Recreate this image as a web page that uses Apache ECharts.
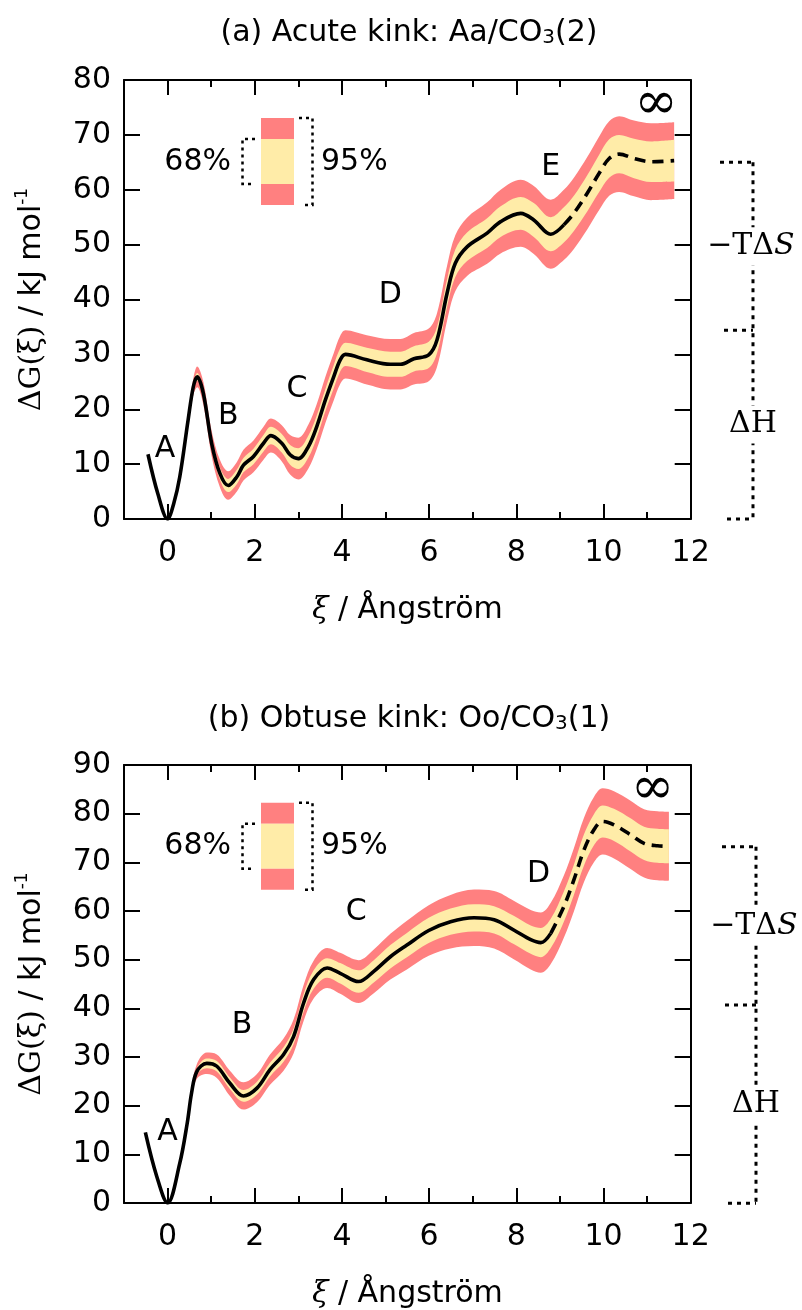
<!DOCTYPE html>
<html>
<head>
<meta charset="utf-8">
<script src="https://cdn.jsdelivr.net/npm/echarts@6/dist/echarts.min.js"></script>
<style>
  html, body { margin: 0; padding: 0; background: #ffffff; }
  #chart { width: 802px; height: 1310px; }
</style>
</head>
<body>
<div id="chart"></div>
<script>
// ---- (a) Acute kink: reaction coordinate (Å), free energy (kJ/mol), confidence half-widths
const xiA   = [-0.45, -0.22, 0, 0.14, 0.28, 0.47, 0.59, 0.68, 0.82, 1.01, 1.2, 1.39, 1.59, 1.74, 1.97, 2.2, 2.37, 2.62, 2.81, 3.0, 3.23, 3.42, 3.62, 3.81, 3.96, 4.08, 4.57, 5.11, 5.34, 5.65, 5.99, 6.18, 6.41, 6.6, 6.87, 7.33, 7.64, 8.1, 8.4, 8.79, 9.09, 9.32, 9.63, 9.9, 10.13, 10.36, 10.7, 11.09, 11.62];
const gA    = [11.8, 4.5, 0, 2.8, 7.7, 18.0, 24.1, 25.9, 22.9, 13.8, 8.3, 6.1, 7.7, 9.8, 11.4, 13.8, 15.2, 13.8, 11.7, 11.0, 13.2, 16.8, 21.7, 25.9, 29.0, 30.0, 29.0, 28.2, 28.2, 29.2, 29.9, 32.6, 41.1, 46.6, 49.6, 52.1, 54.2, 55.7, 54.5, 51.9, 53.6, 55.7, 59.4, 63.0, 65.7, 66.5, 65.7, 65.1, 65.3];
const ci68A = [0, 0, 0, 0, 0, 0.3, 0.5, 0.7, 0.8, 1.0, 1.1, 1.2, 1.3, 1.3, 1.4, 1.5, 1.6, 1.7, 1.8, 1.9, 2.0, 2.0, 2.0, 2.1, 2.1, 2.1, 2.2, 2.3, 2.3, 2.3, 2.4, 2.4, 2.5, 2.5, 2.6, 2.7, 2.8, 3.0, 3.1, 3.1, 3.2, 3.2, 3.3, 3.4, 3.5, 3.5, 3.6, 3.7, 3.8];
const ci95A = [0, 0, 0, 0, 0, 1.0, 1.5, 1.9, 2.1, 2.3, 2.5, 2.6, 2.7, 2.8, 2.9, 3.0, 3.1, 3.3, 3.6, 3.8, 4.0, 4.1, 4.2, 4.3, 4.4, 4.4, 4.5, 4.6, 4.6, 4.7, 4.8, 4.9, 5.0, 5.1, 5.3, 5.6, 5.8, 6.1, 6.2, 6.3, 6.4, 6.5, 6.6, 6.7, 6.8, 6.9, 6.9, 7.0, 7.0];
const extrapolatedFromA = 9.09;   // profile drawn dashed beyond this ξ
const totalA = 65.0;              // ΔG at ξ → ∞
const enthalpyA = 34.4;           // ΔH
const stagesA = [['A', -0.06, 12.8], ['B', 1.39, 18.8], ['C', 2.97, 23.7], ['D', 5.11, 40.8], ['E', 8.79, 64.1], ['∞', 11.2, 75.6]];

// ---- (b) Obtuse kink
const xiB   = [-0.51, -0.25, 0, 0.28, 0.45, 0.55, 0.67, 0.9, 1.13, 1.43, 1.74, 2.05, 2.35, 2.66, 2.89, 3.12, 3.35, 3.66, 3.96, 4.38, 4.73, 5.11, 5.49, 5.99, 6.49, 7.03, 7.49, 7.94, 8.33, 8.56, 8.79, 9.09, 9.32, 9.55, 9.78, 9.98, 10.24, 10.63, 10.93, 11.24, 11.5];
const gB    = [14.5, 5.5, 0, 8.2, 16.4, 22.6, 27.0, 28.7, 28.1, 24.6, 22.0, 23.6, 27.4, 30.5, 34.2, 41.1, 45.9, 48.3, 47.2, 45.5, 47.6, 50.6, 53.0, 56.0, 57.8, 58.6, 58.2, 56.1, 54.1, 53.5, 55.4, 60.9, 66.4, 72.5, 76.7, 78.4, 77.7, 75.6, 73.9, 73.4, 73.3];
const ci68B = [0, 0, 0, 0, 0.2, 0.4, 0.6, 1.0, 1.1, 1.2, 1.2, 1.3, 1.4, 1.5, 1.6, 1.8, 1.9, 2.0, 2.1, 2.3, 2.3, 2.4, 2.5, 2.6, 2.7, 2.8, 2.8, 2.9, 2.9, 3.0, 3.0, 3.1, 3.1, 3.2, 3.2, 3.3, 3.3, 3.4, 3.4, 3.5, 3.5];
const ci95B = [0, 0, 0, 0, 0.5, 1.0, 1.5, 2.2, 2.4, 2.6, 2.8, 2.9, 3.1, 3.3, 3.5, 3.7, 3.9, 4.1, 4.2, 4.4, 4.5, 4.7, 5.0, 5.2, 5.5, 5.8, 5.9, 6.0, 6.1, 6.2, 6.3, 6.4, 6.5, 6.6, 6.7, 6.8, 6.9, 7.0, 7.0, 7.1, 7.1];
const extrapolatedFromB = 8.79;
const totalB = 73.2;
const enthalpyB = 40.7;
const stagesB = [['A', 0.0, 14.6], ['B', 1.71, 36.6], ['C', 4.33, 59.8], ['D', 8.51, 67.6], ['∞', 11.12, 84.9]];

// ---- axis ticks
const majorTicks = [0, 2, 4, 6, 8, 10, 12];
const minorTicks = [1, 3, 5, 7, 9, 11];

const SANS = 'DejaVu Sans';
const SERIF = 'DejaVu Serif';
const RED = '#ff8080';
const YELLOW = '#ffeca8';
const FS = 30;

const panels = [
  { title: '(a) Acute kink: Aa/CO{sub|3}(2)', titleY: 33, top: 80, height: 439, yMax: 80,
    xi: xiA, g: gA, c68: ci68A, c95: ci95A, dashFrom: extrapolatedFromA,
    total: totalA, enthalpy: enthalpyA, stages: stagesA, legendTop: 118, bracketX: [0.286, 0.343, 0.386, 0.757] },
  { title: '(b) Obtuse kink: Oo/CO{sub|3}(1)', titleY: 719, top: 765, height: 438.3, yMax: 90,
    xi: xiB, g: gB, c68: ci68B, c95: ci95B, dashFrom: extrapolatedFromB,
    total: totalB, enthalpy: enthalpyB, stages: stagesB, legendTop: 802.7, bracketX: [0.314, 0.357, 0.4, 0.8] }
];

const grid = [], xAxis = [], yAxis = [], series = [], graphic = [];
const black = { color: '#000', width: 2 };

panels.forEach((p, i) => {
  // main plot and a narrow strip on its right for the ΔH / −TΔS bracket
  grid.push({ left: 124, top: p.top, width: 566.7, height: p.height });
  grid.push({ left: 700, top: p.top, width: 70, height: p.height });
  const gMain = 2 * i, gSide = 2 * i + 1;

  const xCommon = { type: 'value', gridIndex: gMain, min: -1, max: 12, z: 10, splitLine: { show: false } };
  const xMain = xAxis.length;
  xAxis.push(Object.assign({}, xCommon, {
    position: 'bottom',
    axisLine: { show: true, onZero: false, lineStyle: black },
    axisTick: { show: true, inside: true, length: 15, lineStyle: black, customValues: majorTicks },
    axisLabel: { show: true, customValues: majorTicks, margin: 19, color: '#000', fontFamily: SANS, fontSize: FS },
    name: '{g|ξ} / Ångström', nameLocation: 'middle', nameGap: 76,
    nameTextStyle: { color: '#000', fontFamily: SANS, fontSize: FS,
      rich: { g: { fontFamily: SERIF, fontSize: FS, fontStyle: 'italic', color: '#000' } } }
  }));
  xAxis.push(Object.assign({}, xCommon, {
    position: 'bottom',
    axisLine: { show: false, onZero: false },
    axisTick: { show: true, inside: true, length: 7, lineStyle: black, customValues: minorTicks },
    axisLabel: { show: false }
  }));
  xAxis.push(Object.assign({}, xCommon, {
    position: 'top',
    axisLine: { show: true, onZero: false, lineStyle: black },
    axisTick: { show: true, inside: true, length: 15, lineStyle: black, customValues: majorTicks },
    axisLabel: { show: false }
  }));
  xAxis.push(Object.assign({}, xCommon, {
    position: 'top',
    axisLine: { show: false, onZero: false },
    axisTick: { show: true, inside: true, length: 7, lineStyle: black, customValues: minorTicks },
    axisLabel: { show: false }
  }));

  const yMain = yAxis.length;
  const yCommon = { type: 'value', gridIndex: gMain, min: 0, max: p.yMax, interval: 10, z: 10, splitLine: { show: false } };
  yAxis.push(Object.assign({}, yCommon, {
    position: 'left',
    axisLine: { show: true, onZero: false, lineStyle: black },
    axisTick: { show: true, inside: true, length: 16, lineStyle: black },
    axisLabel: { show: true, margin: 13, color: '#000', fontFamily: SANS, fontSize: FS },
    name: '{s|ΔG(ξ)} / kJ mol{sup|-1}', nameLocation: 'middle', nameRotate: 90, nameGap: 74,
    nameTextStyle: { color: '#000', fontFamily: SANS, fontSize: FS, lineHeight: 36,
      rich: {
        s: { fontFamily: SERIF, fontSize: FS, color: '#000', lineHeight: 36 },
        sup: { fontFamily: SANS, fontSize: 17, color: '#000', verticalAlign: 'top', lineHeight: 36 }
      } }
  }));
  yAxis.push(Object.assign({}, yCommon, {
    position: 'right',
    axisLine: { show: true, onZero: false, lineStyle: black },
    axisTick: { show: true, inside: true, length: 16, lineStyle: black },
    axisLabel: { show: false }
  }));

  const xSide = xAxis.length;
  xAxis.push({ type: 'value', gridIndex: gSide, min: 0, max: 1, show: false });
  const ySide = yAxis.length;
  yAxis.push({ type: 'value', gridIndex: gSide, min: 0, max: p.yMax, show: false });

  const onMain = { xAxisIndex: xMain, yAxisIndex: yMain };
  const smooth = 0.35;

  // confidence bands painted from the top layer down, each filled to the axis
  const layers = [
    [k => p.g[k] + p.c95[k], RED],
    [k => p.g[k] + p.c68[k], YELLOW],
    [k => p.g[k] - p.c68[k], RED],
    [k => p.g[k] - p.c95[k], '#ffffff']
  ];
  layers.forEach(([fn, color]) => {
    series.push(Object.assign({
      type: 'line', smooth, symbol: 'none', silent: true, animation: false,
      data: p.xi.map((x, k) => [x, fn(k)]),
      lineStyle: { width: 0, opacity: 0 },
      areaStyle: { color, opacity: 1, origin: 'start' },
      z: 2
    }, onMain));
  });
  // tidy the vertical edges of the painted layers below the band at both ends
  const last = p.xi.length - 1;
  [0, last].forEach(k => {
    series.push(Object.assign({
      type: 'line', symbol: 'none', silent: true, animation: false, z: 3,
      data: [[p.xi[k], 0], [p.xi[k], p.g[k] - p.c95[k]]],
      lineStyle: { color: '#ffffff', width: 2 }
    }, onMain));
  });

  // free energy profile: solid, then dashed where extrapolated
  const solid = [], dashed = [];
  p.xi.forEach((x, k) => {
    if (x <= p.dashFrom) solid.push([x, p.g[k]]);
    if (x >= p.dashFrom) dashed.push([x, p.g[k]]);
  });
  series.push(Object.assign({
    type: 'line', smooth, symbol: 'none', silent: true, animation: false, z: 4,
    data: solid, lineStyle: { color: '#000', width: 3.6 }
  }, onMain));
  series.push(Object.assign({
    type: 'line', smooth, symbol: 'none', silent: true, animation: false, z: 4,
    data: dashed, lineStyle: { color: '#000', width: 3.6, type: [11, 7] }
  }, onMain));

  // stage labels
  series.push(Object.assign({
    type: 'scatter', symbolSize: 0, silent: true, animation: false, z: 6,
    itemStyle: { opacity: 1 },
    data: p.stages.map(s => ({ value: [s[1], s[2]], name: s[0] })),
    label: {
      show: true, position: 'inside', color: '#000', opacity: 1,
      formatter: d => d.name === '∞' ? '{inf|∞}' : d.name,
      fontFamily: SANS, fontSize: FS,
      rich: { inf: { fontFamily: SERIF, fontSize: 52, color: '#000' } }
    }
  }, onMain));

  // ΔH / −TΔS bracket
  const [xTop, xMid, xBot, xV] = p.bracketX;
  const dotted = { color: '#000', width: 3, type: [4, 5] };
  const segs = [
    [[xTop, p.total], [xV, p.total]],
    [[xV, p.total], [xV, 0]],
    [[xMid, p.enthalpy], [xV, p.enthalpy]],
    [[xBot, 0], [xV, 0]]
  ];
  segs.forEach(seg => series.push({
    type: 'line', xAxisIndex: xSide, yAxisIndex: ySide, symbol: 'none', silent: true,
    animation: false, clip: false, data: seg, lineStyle: dotted, z: 2
  }));
  series.push({
    type: 'scatter', xAxisIndex: xSide, yAxisIndex: ySide, symbolSize: 0, silent: true,
    animation: false, clip: false, z: 5, itemStyle: { opacity: 1 },
    data: [
      { value: [xV - 0.03, (p.total + p.enthalpy) / 2], name: 'ts' },
      { value: [xV, p.enthalpy / 2], name: 'h' }
    ],
    label: {
      show: true, position: 'inside', color: '#000', opacity: 1, fontFamily: SERIF, fontSize: 30,
      backgroundColor: '#ffffff', padding: [4, 0],
      formatter: d => d.name === 'ts' ? '−TΔ{i|S}' : 'ΔH',
      rich: { i: { fontFamily: SERIF, fontSize: 30, fontStyle: 'italic', color: '#000' } }
    }
  });

  // title
  graphic.push({
    type: 'text', x: 409, y: p.titleY, silent: true,
    style: {
      text: p.title, align: 'center', verticalAlign: 'middle',
      font: FS + 'px "' + SANS + '"', fill: '#000',
      rich: { sub: { fontFamily: SANS, fontSize: 20, verticalAlign: 'bottom', fill: '#000' } }
    }
  });

  // confidence-interval key
  const L = p.legendTop;
  graphic.push({ type: 'rect', silent: true, shape: { x: 261, y: L, width: 33, height: 21 }, style: { fill: RED } });
  graphic.push({ type: 'rect', silent: true, shape: { x: 261, y: L + 21, width: 33, height: 45 }, style: { fill: YELLOW } });
  graphic.push({ type: 'rect', silent: true, shape: { x: 261, y: L + 66, width: 33, height: 21 }, style: { fill: RED } });
  graphic.push({ type: 'polyline', silent: true,
    shape: { points: [[255, L + 21], [242.5, L + 21], [242.5, L + 66], [255, L + 66]] },
    style: { stroke: '#000', lineWidth: 2.5, lineDash: [3, 4], fill: null } });
  graphic.push({ type: 'polyline', silent: true,
    shape: { points: [[299, L], [312.5, L], [312.5, L + 87], [303, L + 87]] },
    style: { stroke: '#000', lineWidth: 2.5, lineDash: [3, 4], fill: null } });
  graphic.push({ type: 'text', silent: true, x: 231, y: L + 44,
    style: { text: '68%', align: 'right', verticalAlign: 'middle', font: FS + 'px "' + SANS + '"', fill: '#000' } });
  graphic.push({ type: 'text', silent: true, x: 321, y: L + 44,
    style: { text: '95%', align: 'left', verticalAlign: 'middle', font: FS + 'px "' + SANS + '"', fill: '#000' } });
});

const chart = echarts.init(document.getElementById('chart'));
chart.setOption({
  backgroundColor: '#ffffff',
  animation: false,
  grid, xAxis, yAxis, series, graphic
});
</script>
</body>
</html>
